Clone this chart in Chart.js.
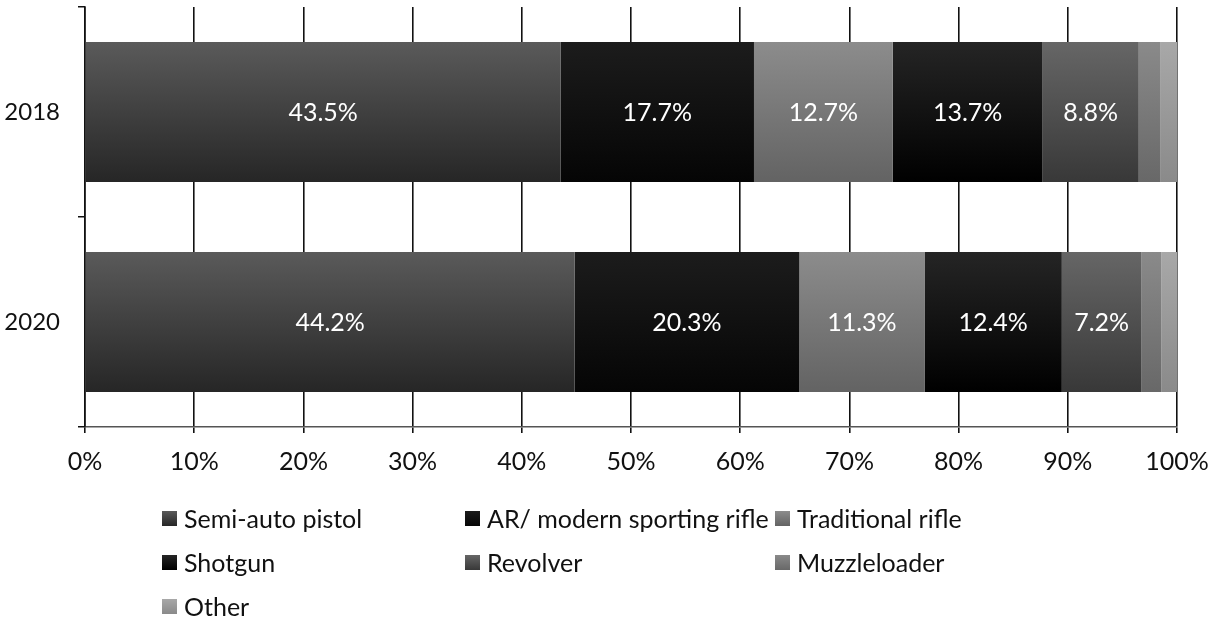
<!DOCTYPE html>
<html>
<head>
<meta charset="utf-8">
<script src="https://cdn.jsdelivr.net/npm/chart.js@4/dist/chart.umd.min.js"></script>
<style>
  html, body { margin: 0; padding: 0; background: #fff; }
  #wrap { position: relative; width: 1215px; height: 630px; }
  #legend { position: absolute; left: 0; top: 0; width: 1215px; height: 630px; pointer-events: none;
            font-family: Lato, 'Noto Sans', sans-serif; font-size: 25px; color: #111; }
  .item { position: absolute; display: flex; align-items: center; white-space: nowrap; height: 30px; }
  .box { width: 15px; height: 15px; margin-right: 7px; }
</style>
</head>
<body>
<div id="wrap">
  <canvas id="chart" width="1215" height="630"></canvas>
  <div id="legend"></div>
</div>
<script>
// values (percent labels as printed)
const categories = ['2018', '2020'];
const semiAutoPistol = [43.5, 44.2];
const arRifle = [17.7, 20.3];
const traditionalRifle = [12.7, 11.3];
const shotgun = [13.7, 12.4];
const revolver = [8.8, 7.2];
const muzzleloader = [2.0, 1.8];
const other = [1.5, 1.4];
const xTicks = [0, 10, 20, 30, 40, 50, 60, 70, 80, 90, 100];

const seriesNames = ['Semi-auto pistol', 'AR/ modern sporting rifle', 'Traditional rifle',
  'Shotgun', 'Revolver', 'Muzzleloader', 'Other'];
const seriesValues = [semiAutoPistol, arRifle, traditionalRifle, shotgun, revolver, muzzleloader, other];
const showLabel = [true, true, true, true, true, false, false];
// top / bottom shade of each grey fill
const shades = [
  ['#5a5a5a', '#262626'],
  ['#1c1c1c', '#050505'],
  ['#8c8c8c', '#636363'],
  ['#252525', '#000000'],
  ['#666666', '#383838'],
  ['#8a8a8a', '#686868'],
  ['#a8a8a8', '#8a8a8a']
];

// 100% stacked: each bar is shown as share of its category total
const totals = categories.map((c, i) => seriesValues.reduce((s, arr) => s + arr[i], 0));

const font = "Lato, 'Noto Sans', sans-serif";

function barFill(ctx, k) {
  const chart = ctx.chart;
  const area = chart.chartArea;
  if (!area || !chart.scales.y) return shades[k][1];
  const yc = chart.scales.y.getPixelForValue(ctx.dataIndex);
  const g = chart.ctx.createLinearGradient(0, yc - 70, 0, yc + 70);
  g.addColorStop(0, shades[k][0]);
  g.addColorStop(1, shades[k][1]);
  return g;
}

const datasets = seriesNames.map((name, k) => ({
  label: name,
  data: seriesValues[k].map((v, i) => v / totals[i] * 100),
  raw: seriesValues[k],
  backgroundColor: ctx => barFill(ctx, k),
  borderWidth: 0,
  categoryPercentage: 1,
  barPercentage: 0.667
}));

const valueLabels = {
  id: 'valueLabels',
  afterDatasetsDraw(chart) {
    const c = chart.ctx;
    c.save();
    c.fillStyle = '#ffffff';
    c.font = '25px ' + font;
    c.textAlign = 'center';
    c.textBaseline = 'middle';
    chart.data.datasets.forEach((ds, k) => {
      if (!showLabel[k]) return;
      chart.getDatasetMeta(k).data.forEach((bar, i) => {
        const p = bar.getCenterPoint();
        c.fillText(ds.raw[i].toFixed(1) + '%', p.x, p.y + 1);
      });
    });
    c.restore();
  }
};

new Chart(document.getElementById('chart'), {
  type: 'bar',
  data: { labels: categories, datasets },
  plugins: [valueLabels],
  options: {
    indexAxis: 'y',
    responsive: false,
    animation: false,
    layout: { padding: { top: 7, right: 38, left: 0, bottom: 0 } },
    plugins: { legend: { display: false }, tooltip: { enabled: false } },
    scales: {
      x: {
        stacked: true,
        min: 0,
        max: 100,
        afterBuildTicks: s => { s.ticks = xTicks.map(v => ({ value: v })); },
        afterFit: s => { s.height = 203; s.paddingLeft = 0; s.paddingRight = 0; },
        grid: { color: '#111', lineWidth: 1.6, tickLength: 6, drawTicks: true },
        border: { display: true, color: '#555', width: 1.5 },
        ticks: { color: '#111', font: { family: font, size: 25 }, padding: 14, callback: v => v + '%' }
      },
      y: {
        stacked: true,
        afterFit: s => { s.width = 85; s.paddingTop = 0; s.paddingBottom = 0; },
        grid: { drawOnChartArea: false, color: '#111', lineWidth: 1.5, tickLength: 7, offset: true },
        border: { display: true, color: '#111', width: 1.6 },
        ticks: { color: '#111', font: { family: font, size: 24 }, padding: 18 }
      }
    }
  }
});

// legend laid out in the same three-column grid as the original
const legendPos = [[162, 503], [465, 503], [775, 503], [162, 547], [465, 547], [775, 547], [162, 591]];
const legend = document.getElementById('legend');
seriesNames.forEach((name, k) => {
  const it = document.createElement('div');
  it.className = 'item';
  it.style.left = legendPos[k][0] + 'px';
  it.style.top = legendPos[k][1] + 'px';
  const b = document.createElement('span');
  b.className = 'box';
  b.style.background = 'linear-gradient(' + shades[k][0] + ',' + shades[k][1] + ')';
  const t = document.createElement('span');
  t.textContent = name;
  it.appendChild(b);
  it.appendChild(t);
  legend.appendChild(it);
});
</script>
</body>
</html>
